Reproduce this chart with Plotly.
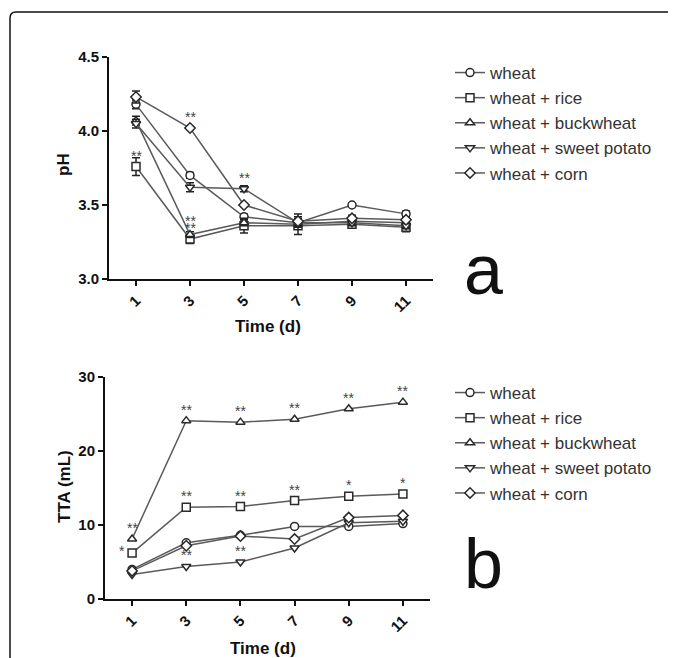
import plotly.graph_objects as go

days = [1, 3, 5, 7, 9, 11]
series_names = ["wheat", "wheat + rice", "wheat + buckwheat", "wheat + sweet potato", "wheat + corn"]
symbols = ["circle", "square", "triangle-up", "triangle-down", "diamond"]

# Panel a: pH
ph_wheat = [4.18, 3.70, 3.42, 3.38, 3.50, 3.44]
ph_rice = [3.76, 3.27, 3.36, 3.36, 3.37, 3.35]
ph_buckwheat = [4.07, 3.30, 3.38, 3.37, 3.39, 3.38]
ph_sweetpotato = [4.05, 3.62, 3.61, 3.38, 3.38, 3.36]
ph_corn = [4.23, 4.02, 3.50, 3.39, 3.41, 3.40]
ph_err_wheat = [0.03, 0.02, 0.02, 0.02, 0.01, 0.02]
ph_err_rice = [0.06, 0.03, 0.05, 0.02, 0.02, 0.03]
ph_err_buckwheat = [0.03, 0.02, 0.02, 0.07, 0.02, 0.03]
ph_err_sweetpotato = [0.03, 0.03, 0.02, 0.03, 0.02, 0.02]
ph_err_corn = [0.04, 0.01, 0.01, 0.03, 0.02, 0.02]
ph_sig_wheat = ["", "", "", "", "", ""]
ph_sig_rice = ["**", "**", "", "", "", ""]
ph_sig_buckwheat = ["", "**", "", "", "", ""]
ph_sig_sweetpotato = ["", "", "**", "", "", ""]
ph_sig_corn = ["", "**", "", "", "", ""]

# Panel b: TTA (mL)
tta_wheat = [4.0, 7.6, 8.6, 9.8, 9.8, 10.2]
tta_rice = [6.2, 12.4, 12.5, 13.3, 13.9, 14.2]
tta_buckwheat = [8.1, 24.1, 23.9, 24.3, 25.7, 26.6]
tta_sweetpotato = [3.3, 4.4, 5.0, 6.9, 10.3, 10.5]
tta_corn = [3.8, 7.2, 8.5, 8.1, 11.0, 11.3]
tta_sig_wheat = ["", "", "", "", "", ""]
tta_sig_rice = ["*", "**", "**", "**", "*", "*"]
tta_sig_buckwheat = ["**", "**", "**", "**", "**", "**"]
tta_sig_sweetpotato = ["", "**", "**", "", "", ""]
tta_sig_corn = ["", "", "", "", "", ""]

ph_vals = [ph_wheat, ph_rice, ph_buckwheat, ph_sweetpotato, ph_corn]
ph_errs = [ph_err_wheat, ph_err_rice, ph_err_buckwheat, ph_err_sweetpotato, ph_err_corn]
ph_sigs = [ph_sig_wheat, ph_sig_rice, ph_sig_buckwheat, ph_sig_sweetpotato, ph_sig_corn]
tta_vals = [tta_wheat, tta_rice, tta_buckwheat, tta_sweetpotato, tta_corn]
tta_sigs = [tta_sig_wheat, tta_sig_rice, tta_sig_buckwheat, tta_sig_sweetpotato, tta_sig_corn]

# The page body has an 8px margin; the figure fills the rest of the window.
OFF = 8
W, H = 676 - OFF, 658 - OFF


def px(x):
    return (x - OFF) / W


def py(y):
    return 1 - (y - OFF) / H


LINE = "#5a5a5a"
MK = "#2a2a2a"
FONT = "Arial"

fig = go.Figure()

for i, name in enumerate(series_names):
    fig.add_trace(go.Scatter(
        x=days, y=ph_vals[i], name=name, mode="lines+markers",
        line=dict(color=LINE, width=1.5),
        marker=dict(symbol=symbols[i], size=8, color="white", line=dict(color=MK, width=1.5)),
        error_y=dict(type="data", array=ph_errs[i], color="#222", thickness=1.5, width=4),
        xaxis="x", yaxis="y", legend="legend", legendgroup=f"a{i}",
    ))
for i, name in enumerate(series_names):
    fig.add_trace(go.Scatter(
        x=days, y=tta_vals[i], name=name, mode="lines+markers",
        line=dict(color=LINE, width=1.5),
        marker=dict(symbol=symbols[i], size=8, color="white", line=dict(color=MK, width=1.5)),
        xaxis="x2", yaxis="y2", legend="legend2", legendgroup=f"b{i}",
    ))

annotations = []
SIGFONT = dict(family=FONT, size=14, color="#444")
for i in range(5):
    for j, d in enumerate(days):
        s = ph_sigs[i][j]
        if not s:
            continue
        yshift = 11
        if i == 2 and j == 1:
            yshift = 7
        if i == 1 and j == 1:
            yshift = 18  # rice stacked above buckwheat on day 3
        annotations.append(dict(x=d, y=ph_vals[i][j], xref="x", yref="y", text=s,
                                showarrow=False, yshift=yshift, font=SIGFONT))
for i in range(5):
    for j, d in enumerate(days):
        s = tta_sigs[i][j]
        if not s:
            continue
        ann = dict(x=d, y=tta_vals[i][j], xref="x2", yref="y2", text=s,
                   showarrow=False, yshift=11, font=SIGFONT)
        if i == 1 and j == 0:
            ann.update(yshift=2, xshift=-10)
        annotations.append(ann)

TITLEFONT = dict(family=FONT, size=17, color="#111", weight="bold")
TICKFONT = dict(family=FONT, size=15, color="#111", weight="bold")
for txt, x, y, ang in [("pH", 64, 165, -90), ("TTA (mL)", 64, 487, -90),
                       ("Time (d)", 268, 326, 0), ("Time (d)", 263, 648, 0)]:
    annotations.append(dict(x=px(x), y=py(y), xref="paper", yref="paper", text=txt,
                            textangle=ang, showarrow=False, xanchor="center",
                            yanchor="middle", font=TITLEFONT))
for txt, x, y in [("a", 483, 270), ("b", 483, 564)]:
    annotations.append(dict(x=px(x), y=py(y), xref="paper", yref="paper", text=txt,
                            showarrow=False, xanchor="center", yanchor="middle",
                            font=dict(family=FONT, size=70, color="#111")))

axis_common = dict(showline=True, linecolor="#111", linewidth=2, ticks="outside",
                   tickcolor="#111", tickwidth=2, ticklen=5, showgrid=False, zeroline=False,
                   tickfont=TICKFONT, automargin=False)

legend_common = dict(xanchor="left", yanchor="top",
                     font=dict(family=FONT, size=17, color="#333"), bgcolor="rgba(0,0,0,0)",
                     tracegroupgap=0, traceorder="grouped", itemwidth=30)

top_edge = py(12)

fig.update_layout(
    width=W, height=H,
    margin=dict(l=0, r=0, t=0, b=0),
    paper_bgcolor="white", plot_bgcolor="white",
    xaxis=dict(axis_common, domain=[px(109), px(433)], range=[0, 12], tickvals=days,
               tickangle=-45, anchor="y"),
    yaxis=dict(axis_common, domain=[py(279), py(57)], range=[3.0, 4.5],
               tickvals=[3.0, 3.5, 4.0, 4.5], tickformat=".1f", anchor="x"),
    xaxis2=dict(axis_common, domain=[px(105), px(430)], range=[0, 12], tickvals=days,
                tickangle=-45, anchor="y2"),
    yaxis2=dict(axis_common, domain=[py(599), py(377)], range=[0, 30],
                tickvals=[0, 10, 20, 30], anchor="x2"),
    legend=dict(legend_common, x=px(450), y=py(55)),
    legend2=dict(legend_common, x=px(450), y=py(375)),
    annotations=annotations,
    shapes=[dict(type="path", xref="paper", yref="paper",
                 path=(f"M {px(10)},-0.01 L {px(10)},{py(18)} "
                       f"Q {px(10)},{top_edge} {px(16)},{top_edge} L 1.01,{top_edge}"),
                 line=dict(color="#111", width=1.5))],
)

fig.write_html("out.html")
